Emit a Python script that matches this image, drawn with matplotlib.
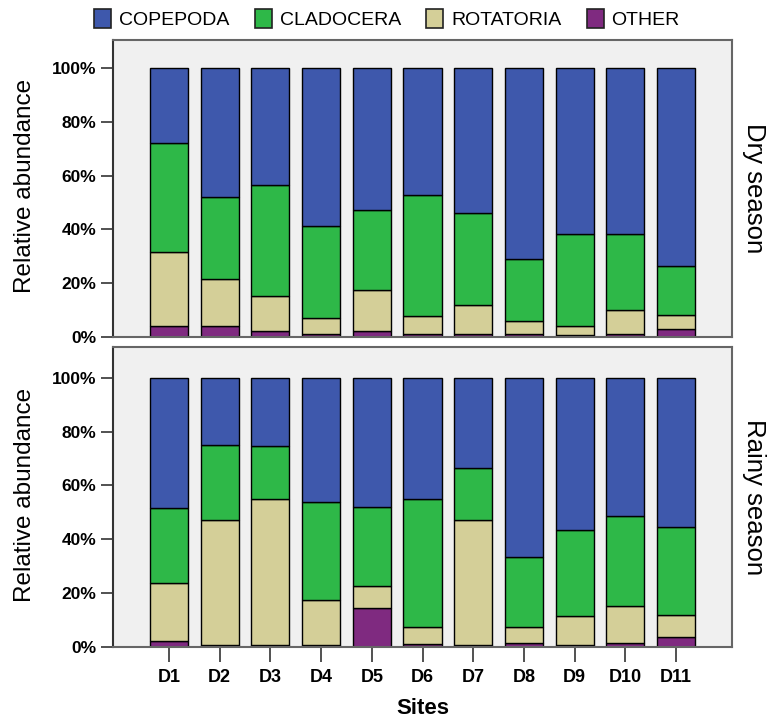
import numpy as np
import matplotlib
matplotlib.use('Agg')
import matplotlib.pyplot as plt
from matplotlib.patches import Patch

sites = ['D1', 'D2', 'D3', 'D4', 'D5', 'D6', 'D7', 'D8', 'D9', 'D10', 'D11']
groups = ['COPEPODA', 'CLADOCERA', 'ROTATORIA', 'OTHER']

# percentages per site (bottom to top: other, rotatoria, cladocera, copepoda)
dry_other = [4.0, 4.0, 2.1, 1.0, 2.1, 1.0, 1.3, 1.0, 0.8, 1.0, 3.1]
dry_rotatoria = [27.6, 17.5, 13.1, 6.1, 15.3, 6.8, 10.5, 5.1, 3.3, 9.2, 4.9]
dry_cladocera = [40.6, 30.5, 41.2, 34.3, 29.9, 45.2, 34.3, 23.1, 34.4, 28.3, 18.5]

wet_other = [2.1, 0.9, 0.6, 0.9, 14.3, 1.1, 0.6, 1.3, 0.9, 1.3, 3.6]
wet_rotatoria = [21.8, 46.4, 54.3, 16.4, 8.3, 6.5, 46.5, 6.1, 10.5, 13.8, 8.3]
wet_cladocera = [27.8, 27.7, 19.7, 36.7, 29.4, 47.2, 19.4, 25.9, 32.0, 33.6, 32.5]

colors = {'COPEPODA': '#3e58ac', 'CLADOCERA': '#2eb848',
          'ROTATORIA': '#d4cf98', 'OTHER': '#7f2a80'}

plt.rcParams['font.family'] = ['Liberation Sans', 'DejaVu Sans']

fig = plt.figure(figsize=(7.75, 7.22), dpi=100)
ax_top = fig.add_axes([113 / 775, 1 - 337 / 722, 619 / 775, 297 / 722])
ax_bot = fig.add_axes([113 / 775, 1 - 647 / 722, 619 / 775, 300 / 722])


def draw(ax, other, rot, clad, ytop, season):
    x = np.arange(len(sites))
    other = np.array(other)
    rot = np.array(rot)
    clad = np.array(clad)
    cope = 100 - other - rot - clad
    bottom = np.zeros(len(sites))
    for vals, name in [(other, 'OTHER'), (rot, 'ROTATORIA'), (clad, 'CLADOCERA'), (cope, 'COPEPODA')]:
        ax.bar(x, vals, 0.75, bottom=bottom, color=colors[name], edgecolor='black', linewidth=1.0)
        bottom = bottom + vals
    ax.set_xlim(-1.1, len(sites) - 1 + 1.1)
    ax.set_ylim(0, ytop)
    ax.set_facecolor('#f0f0f0')
    ax.set_yticks([0, 20, 40, 60, 80, 100])
    ax.set_yticklabels(['0%', '20%', '40%', '60%', '80%', '100%'],
                       fontweight='bold', fontsize=12.5)
    ax.tick_params(axis='y', length=9, width=1.2, color='#333333', pad=3)
    for s in ax.spines.values():
        s.set_color('#666666')
        s.set_linewidth(1.5)
    ax.spines['left'].set_color('#333333')
    ax.text(1.036, 0.5, season, transform=ax.transAxes, rotation=-90,
            ha='center', va='center', fontsize=18.5)


draw(ax_top, dry_other, dry_rotatoria, dry_cladocera, 110.5, 'Dry season')
draw(ax_bot, wet_other, wet_rotatoria, wet_cladocera, 111.4, 'Rainy season')

ax_top.set_xticks([])
ax_bot.set_xticks(np.arange(len(sites)))
ax_bot.set_xticklabels(sites, fontweight='bold', fontsize=13)
ax_bot.tick_params(axis='x', length=11, width=1.2, color='#333333', pad=5)

fig.text(25 / 775, 1 - 186 / 722, 'Relative abundance', rotation=90, ha='center', va='center', fontsize=17.5)
fig.text(25 / 775, 1 - 495 / 722, 'Relative abundance', rotation=90, ha='center', va='center', fontsize=17.5)
fig.text(423 / 775, 1 - 709 / 722, 'Sites', ha='center', va='center', fontsize=16, fontweight='bold')

handles = [Patch(facecolor=colors[g], edgecolor='#222222', linewidth=1.2) for g in groups]
leg = fig.legend(handles, groups, ncol=4, loc='center', bbox_to_anchor=(387 / 775, 1 - 19 / 722),
                 frameon=False, prop={'size': 14},
                 handlelength=0.88, handleheight=1.13, handletextpad=0.4, columnspacing=1.3)

fig.savefig('out.png', dpi=100)
